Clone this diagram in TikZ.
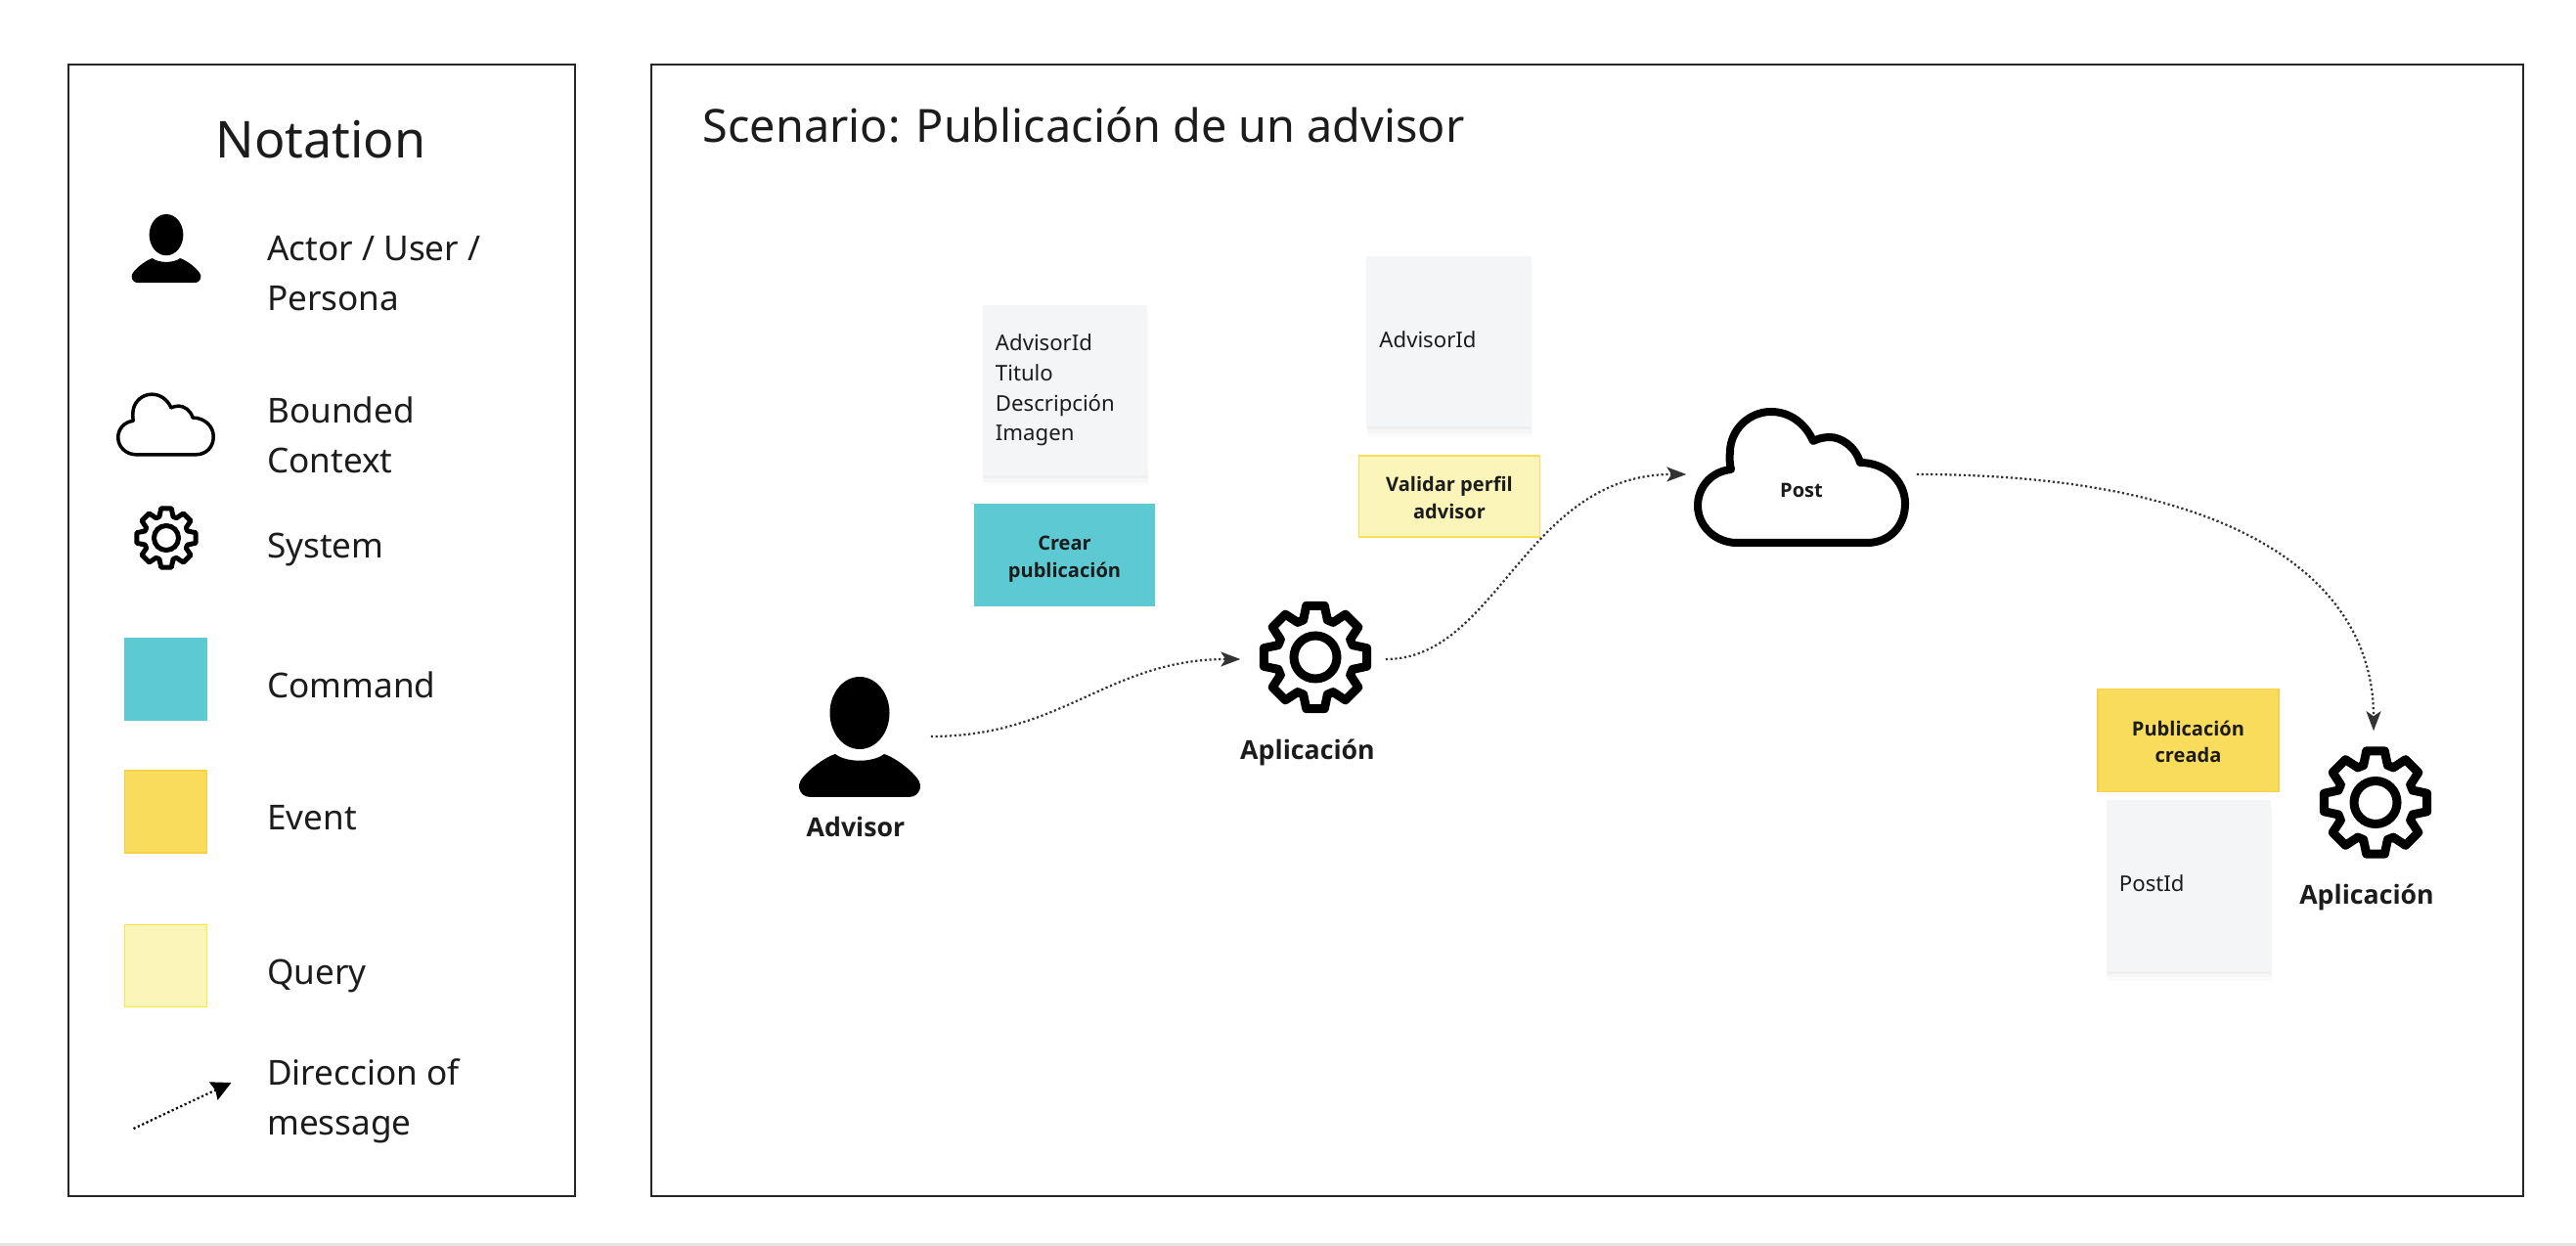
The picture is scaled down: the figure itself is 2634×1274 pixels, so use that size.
\documentclass[tikz,border=0pt]{standalone}
\usepackage{fontspec}
\setmainfont{Noto Sans}
\newfontfamily\labelFont{Open Sans}
\usetikzlibrary{arrows.meta,shadows}
\definecolor{inkDark}{HTML}{1C1C1C}
\definecolor{stickyGray}{HTML}{F4F5F7}
\definecolor{commandBlue}{HTML}{5CC9D3}
\definecolor{eventYellow}{HTML}{F9DC5C}
\definecolor{eventEdge}{HTML}{F6D045}
\definecolor{queryYellow}{HTML}{FCF5B9}
\definecolor{queryEdge}{HTML}{F8DF55}
\begin{document}
\begin{tikzpicture}
        [x=.01cm, y=-.01cm, text=inkDark,
        panel/.style={draw=black!85, line width=.2mm, inner sep=0pt},
        icon/.style={inner sep=0pt},
        legendText/.style={anchor=base west, inner sep=0pt, align=left, font=\fontsize{10}{14.5}\selectfont},
        sticky/.style={fill=stickyGray, minimum width=1.68cm, minimum height=1.74cm, inner xsep=1.3mm, inner ysep=0pt,
            text width=1.42cm, align=left, font=\fontsize{6.3}{8.68}\selectfont,
            drop shadow={shadow xshift=.1mm, shadow yshift=-1mm, opacity=.03},
            drop shadow={shadow xshift=.05mm, shadow yshift=-.65mm, opacity=.04},
            drop shadow={shadow xshift=0mm, shadow yshift=-.3mm, opacity=.05}},
        stickyLine/.style={sticky, execute at end node={\rule[-.4mm]{0pt}{.4mm}}},
        noteBox/.style={minimum width=1.85cm, minimum height=1.05cm, inner sep=0pt, align=center,
            font=\labelFont\fontsize{5.7}{7.7}\selectfont\bfseries,
            execute at begin node={\rule{0pt}{5.1mm}}, execute at end node={\rule[-.6mm]{0pt}{.6mm}}},
        commandNote/.style={noteBox, fill=commandBlue},
        eventNote/.style={noteBox, fill=eventYellow, draw=eventEdge, line width=.15mm},
        queryNote/.style={noteBox, minimum height=.83cm, fill=queryYellow, draw=queryEdge, line width=.15mm},
        nameLabel/.style={anchor=base, inner sep=0pt, font=\labelFont\fontsize{7.6}{9}\selectfont\bfseries},
        message/.style={draw=black!80, line width=.22mm, dash pattern=on .22mm off .26mm,
            -{Stealth[length=2mm, width=1.5mm, inset=.5mm]}},
        gearIcon/.pic={
            \draw[line join=round] (-18:40) \foreach \a in {0,45,...,315} {
                -- ({\a-18}:40) -- ({\a-10}:53.5) -- ({\a+10}:53.5) -- ({\a+18}:40) } -- cycle;
            \draw (0,0) circle (22);
        },
        personIcon/.pic={
            \fill (0,-41) ellipse (30.5 and 37);
            \fill (-25,1) .. controls (-13,10) and (13,10) .. (25,1)
                .. controls (38,5) and (62,24) .. (62,33)
                .. controls (62,41) and (57,45) .. (50,45) -- (-50,45)
                .. controls (-57,45) and (-62,41) .. (-62,33)
                .. controls (-62,24) and (-38,5) .. (-25,1) -- cycle;
        },
        cloudIcon/.pic={
            \draw[line join=round] (-66,67) -- (67,67)
                .. controls (90,67) and (106,50) .. (106,27)
                .. controls (106,3) and (85,-15) .. (60,-15)
                .. controls (55,-32) and (40,-41) .. (29,-41)
                .. controls (22,-41) and (16,-39) .. (12,-37)
                .. controls (4,-55) and (-12,-67) .. (-31,-67)
                .. controls (-55,-67) and (-73,-47) .. (-73,-26)
                .. controls (-74,-18) and (-73,-12) .. (-72,-8)
                .. controls (-92,-6) and (-106,10) .. (-106,29)
                .. controls (-106,50) and (-88,67) .. (-66,67) -- cycle;
        }]
        \useasboundingbox (0,0) rectangle (2634,1274);
        \fill[white] (0,0) rectangle (2634,1274);
        \fill[black!10] (0,1271) rectangle (2634,1274);

        % legend panel
        \node[panel, minimum width=5.18cm, minimum height=11.57cm] (notationPanel) at (329,644.5) {};
        \node[anchor=base, inner sep=0pt, font=\fontsize{14.8}{17}\selectfont] (notationTitle) at (328,162) {Notation};

        \pic[scale=.57] at (170,263.5) {personIcon};
        \node[legendText] (actorText) at (272.5,318) {Actor / User /\\Persona};
        \pic[scale=.46, line width=.35mm] at (169.5,434) {cloudIcon};
        \node[legendText] (contextText) at (272.5,484) {Bounded\\Context};
        \pic[scale=.57, line width=.5mm] at (170,550) {gearIcon};
        \node[legendText] (systemText) at (272.5,571) {System};

        \node[fill=commandBlue, minimum size=.85cm, inner sep=0pt] (commandKey) at (169.5,694.5) {};
        \node[legendText] (commandText) at (272.5,714) {Command};
        \node[fill=eventYellow, draw=eventEdge, line width=.15mm, minimum size=.84cm, inner sep=0pt] (eventKey) at (169.5,830) {};
        \node[legendText] (eventText) at (272.5,849) {Event};
        \node[fill=queryYellow, draw=queryEdge!70!yellow, line width=.15mm, minimum size=.84cm, inner sep=0pt] (queryKey) at (169.5,987.5) {};
        \node[legendText] (queryText) at (272.5,1007) {Query};

        \coordinate (dirFrom) at (136.5,1154);
        \coordinate (dirTo) at (236.5,1107);
        \draw[draw=black, line width=.22mm, dash pattern=on .22mm off .26mm,
            -{Stealth[length=2mm, width=2mm, inset=.2mm]}] (dirFrom) -- (dirTo);
        \node[legendText] (dirText) at (272.5,1160) {Direccion of\\message};

        % scenario panel
        \node[panel, minimum width=19.12cm, minimum height=11.57cm] (scenarioPanel) at (1623,644.5) {};
        \node[anchor=base west, inner sep=0pt, font=\fontsize{13.3}{17}\selectfont] (scenarioTitle) at (718,146) {Scenario: Publicación de un advisor};

        \node[sticky] (createData) at (1089,399) {AdvisorId\\Titulo\\Descripción\\Imagen};
        \node[commandNote] (createCmd) at (1088.5,567.5) {Crear\\publicación};
        \node[stickyLine] (validateData) at (1481.5,349) {AdvisorId};
        \node[queryNote] (validateQuery) at (1482,507.5) {Validar perfil\\advisor};
        \node[eventNote] (createdEvent) at (2237.5,757) {Publicación\\creada};
        \node[stickyLine] (createdData) at (2238,905.5) {PostId};

        \node[icon, minimum width=1.44cm, minimum height=1.2cm] (advisor) at (879,753) {};
        \pic at (879,770) {personIcon};
        \node[nameLabel] (advisorName) at (875,856) {Advisor};

        \node[icon, minimum width=1.47cm, minimum height=1.16cm] (appFirst) at (1342.5,674) {};
        \pic[line width=.9mm] at (1345,672) {gearIcon};
        \node[nameLabel] (appFirstName) at (1337,777) {Aplicación};

        \node[icon, minimum width=2.34cm, minimum height=1.3cm] (post) at (1842,485) {};
        \pic[line width=.8mm] at (1842,488) {cloudIcon};
        \node[nameLabel, font=\labelFont\fontsize{5.7}{7.7}\selectfont\bfseries] (postName) at (1842,509) {Post};

        \node[icon, minimum width=1.16cm, minimum height=1.44cm] (appLast) at (2427,820) {};
        \pic[line width=.9mm] at (2429,820.5) {gearIcon};
        \node[nameLabel] (appLastName) at (2420,925) {Aplicación};

        \draw[message] (advisor.east) .. controls +(135,0) and +(-135,0) .. (appFirst.west);
        \draw[message] (appFirst.east) .. controls +(115,0) and +(-165,0) .. (post.west);
        \draw[message] (post.east) .. controls +(320,0) and +(0,-158) .. (appLast.north);
    \end{tikzpicture}
\end{document}
